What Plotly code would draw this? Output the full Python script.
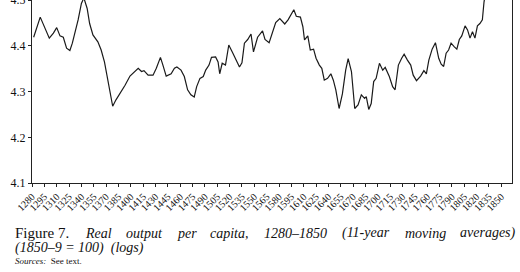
import plotly.graph_objects as go

years = [1282, 1290, 1301, 1306, 1310, 1314, 1318, 1322, 1326, 1329, 1336, 1340, 1343, 1347, 1350,
         1354, 1360, 1364, 1368, 1372, 1378, 1382, 1387, 1393, 1399, 1405, 1409, 1413, 1416, 1421,
         1427, 1431, 1436, 1439, 1443, 1449, 1453, 1456, 1461, 1465, 1469, 1473, 1477, 1480, 1484,
         1488, 1491, 1495, 1498, 1503, 1506, 1508, 1511, 1515, 1519, 1524, 1528, 1532, 1535, 1538,
         1542, 1546, 1549, 1554, 1560, 1563, 1568, 1572, 1576, 1581, 1587, 1591, 1595, 1598, 1601,
         1606, 1609, 1611, 1615, 1618, 1622, 1625, 1629, 1632, 1635, 1639, 1643, 1646, 1649, 1653,
         1657, 1661, 1664, 1668, 1672, 1676, 1680, 1684, 1686, 1689, 1692, 1695, 1698, 1702, 1706,
         1709, 1714, 1718, 1721, 1725, 1729, 1732, 1736, 1740, 1743, 1747, 1752, 1756, 1759, 1762,
         1766, 1770, 1774, 1777, 1780, 1783, 1786, 1789, 1793, 1796, 1799, 1802, 1806, 1809, 1812,
         1815, 1818, 1821, 1824, 1827, 1829, 1832]
output_log = [4.419, 4.463, 4.417, 4.428, 4.440, 4.422, 4.419, 4.395, 4.390, 4.406, 4.457, 4.493, 4.505, 4.482, 4.449,
              4.424, 4.409, 4.391, 4.365, 4.325, 4.268, 4.282, 4.296, 4.314, 4.334, 4.344, 4.351, 4.344, 4.346, 4.336,
              4.336, 4.351, 4.375, 4.358, 4.334, 4.339, 4.351, 4.354, 4.347, 4.333, 4.304, 4.293, 4.288, 4.311, 4.329,
              4.333, 4.347, 4.358, 4.375, 4.376, 4.365, 4.339, 4.362, 4.358, 4.402, 4.384, 4.369, 4.354, 4.363, 4.406,
              4.414, 4.426, 4.387, 4.419, 4.433, 4.414, 4.407, 4.428, 4.451, 4.460, 4.448, 4.457, 4.468, 4.479, 4.465,
              4.463, 4.442, 4.413, 4.422, 4.391, 4.393, 4.373, 4.358, 4.351, 4.325, 4.329, 4.339, 4.325, 4.304, 4.263,
              4.295, 4.347, 4.372, 4.344, 4.263, 4.271, 4.293, 4.285, 4.289, 4.261, 4.274, 4.322, 4.329, 4.362, 4.347,
              4.353, 4.333, 4.311, 4.304, 4.358, 4.373, 4.382, 4.369, 4.358, 4.336, 4.324, 4.334, 4.346, 4.339, 4.369,
              4.393, 4.407, 4.373, 4.360, 4.355, 4.384, 4.391, 4.406, 4.398, 4.393, 4.414, 4.422, 4.444, 4.435, 4.417,
              4.431, 4.417, 4.444, 4.449, 4.457, 4.496, 4.530]

x_ticks = list(range(1280, 1851, 15))
y_ticks = [4.1, 4.2, 4.3, 4.4, 4.5]
y_labels = ["4.1", "4.2", "4.3", "4.4", "4.5"]

caption_words = ["Real", "output", "per", "capita,", "1280–1850", "(11-year", "moving", "averages)"]
caption_word_px = [83, 124, 175, 208, 262, 340, 403, 458]
caption_line2 = "(1850–9 = 100)  (logs)"

W, H = 520, 272
L, R, T, B = 32, 8, 0, 89
PW, PH = W - L - R, H - T - B
SERIF = "Liberation Serif, Times New Roman, serif"


def px_x(p):
    return (p - L) / PW


def px_y(p):
    return (H - B - p) / PH


fig = go.Figure()
fig.add_trace(go.Scatter(x=years, y=output_log, mode="lines",
                         line=dict(color="#1a1a1a", width=1.2), hoverinfo="skip"))

ann = []
ann.append(dict(text="Figure 7.", x=px_x(13), y=px_y(233), xref="paper", yref="paper",
                xanchor="left", yanchor="middle", showarrow=False,
                font=dict(family=SERIF, size=15, color="#111")))
for w, p in zip(caption_words, caption_word_px):
    ann.append(dict(text="<i>" + w + "</i>", x=px_x(p), y=px_y(233), xref="paper", yref="paper",
                    xanchor="left", yanchor="middle", showarrow=False,
                    font=dict(family=SERIF, size=14, color="#111")))
ann.append(dict(text="<i>" + caption_line2 + "</i>", x=px_x(13), y=px_y(248), xref="paper", yref="paper",
                xanchor="left", yanchor="middle", showarrow=False,
                font=dict(family=SERIF, size=14, color="#111")))
ann.append(dict(text="<i>Sources:</i>  See text.", x=px_x(13), y=px_y(261), xref="paper", yref="paper",
                xanchor="left", yanchor="middle", showarrow=False,
                font=dict(family=SERIF, size=9, color="#111")))

fig.update_layout(
    width=W, height=H,
    margin=dict(l=L, r=R, t=T, b=B, pad=0, autoexpand=False),
    paper_bgcolor="white", plot_bgcolor="white",
    showlegend=False,
    annotations=ann,
    xaxis=dict(range=[1280, 1863], tickmode="array", tickvals=x_ticks,
               ticktext=[str(v) for v in x_ticks], tickangle=-45, automargin=False,
               ticks="outside", ticklen=3, tickcolor="#222", tickwidth=1,
               showline=True, linecolor="#222", linewidth=1, showgrid=False, zeroline=False,
               tickfont=dict(family=SERIF, size=10, color="#111")),
    yaxis=dict(range=[4.1, 4.5005], tickmode="array", tickvals=y_ticks, ticktext=y_labels,
               ticks="outside", ticklen=3, tickcolor="#222", tickwidth=1, automargin=False,
               showline=True, linecolor="#222", linewidth=1, mirror=True,
               showgrid=False, zeroline=False, ticklabeloverflow="allow",
               tickfont=dict(family=SERIF, size=12, color="#111")),
)

fig.write_html("out.html")
